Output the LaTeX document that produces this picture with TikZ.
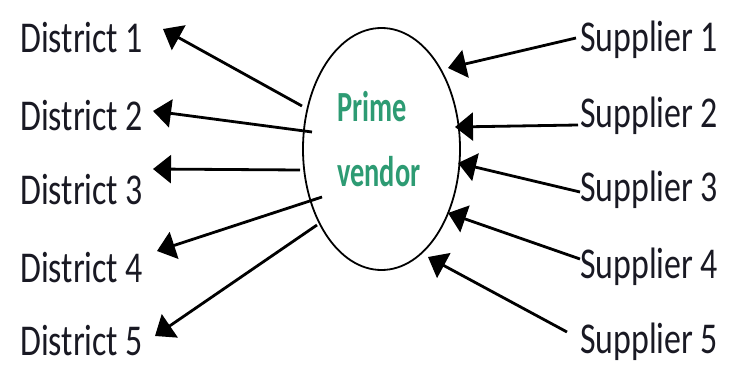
\documentclass[tikz,border=0pt]{standalone}
\usepackage{fontspec}
\usetikzlibrary{arrows.meta,shapes.geometric}
\newfontfamily\labelfont[FakeStretch=0.77]{Carlito}
\newfontfamily\vendorfont[FakeStretch=0.66]{Carlito}
\definecolor{vendorgreen}{RGB}{45,155,115}
\definecolor{labelink}{RGB}{25,25,35}
\tikzset{
  lbl/.style={anchor=base west, inner sep=0pt, font=\labelfont\fontsize{44}{44}\selectfont, text=labelink},
  flow/.style={line width=2.8pt, -{Triangle[length=18pt,width=28pt]}},
}
\begin{document}
\begin{tikzpicture}[x=1pt,y=-1pt]
\useasboundingbox (0,0) rectangle (738,371);
% central vendor
\node[ellipse, draw, line width=1.8pt, minimum width=157pt, minimum height=242pt, inner sep=0pt] (pv) at (381.5,149) {};
\node[anchor=base west, inner sep=0pt, align=left, text=vendorgreen,
      font=\vendorfont\bfseries\fontsize{43}{65}\selectfont] (pvtext) at (337,187) {Prime\\vendor};
% districts
\node[lbl] (d1) at (20,53) {District 1};
\node[lbl] (d2) at (20,131) {District 2};
\node[lbl] (d3) at (20,205) {District 3};
\node[lbl] (d4) at (20,282) {District 4};
\node[lbl] (d5) at (20,355) {District 5};
% suppliers
\node[lbl] (s1) at (580,52) {Supplier 1};
\node[lbl] (s2) at (580,128) {Supplier 2};
\node[lbl] (s3) at (580,202) {Supplier 3};
\node[lbl] (s4) at (580,278) {Supplier 4};
\node[lbl] (s5) at (580,353) {Supplier 5};
% arrow end points
\coordinate (do1) at (302,106);
\coordinate (do2) at (312,132);
\coordinate (do3) at (300,170);
\coordinate (do4) at (322,197);
\coordinate (do5) at (317,225);
\coordinate (di1) at (163,29);
\coordinate (di2) at (153,111);
\coordinate (di3) at (153,169);
\coordinate (di4) at (157,251);
\coordinate (di5) at (155,336);
\coordinate (so1) at (576,38);
\coordinate (so2) at (578,125);
\coordinate (so3) at (580,192);
\coordinate (so4) at (580,259);
\coordinate (so5) at (567,332);
\coordinate (si1) at (448,68);
\coordinate (si2) at (455,127);
\coordinate (si3) at (458,163);
\coordinate (si4) at (448,213);
\coordinate (si5) at (428,257);
% flows out to the districts and in from the suppliers
\foreach \i in {1,...,5} {
  \draw[flow] (do\i) -- (di\i);
  \draw[flow] (so\i) -- (si\i);
}
\end{tikzpicture}
\end{document}
